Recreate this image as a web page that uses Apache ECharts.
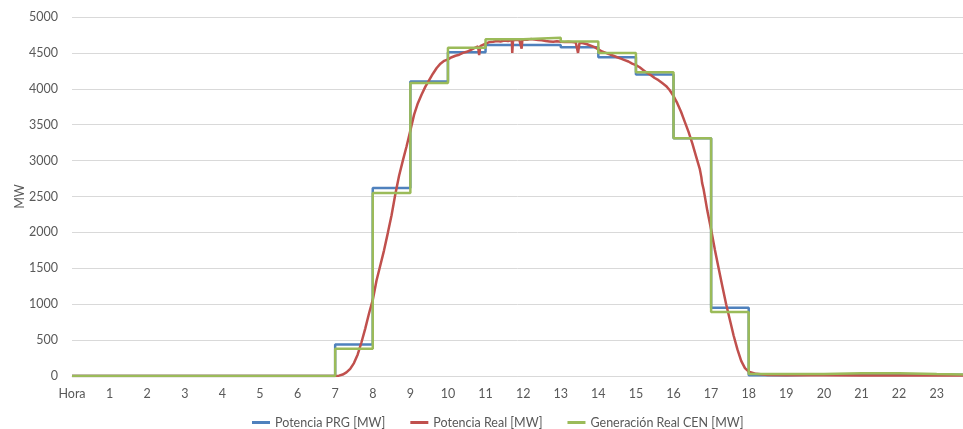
<!DOCTYPE html>
<html>
<head>
<meta charset="utf-8">
<script src="https://cdn.jsdelivr.net/npm/echarts@6/dist/echarts.min.js"></script>
<style>
  html, body { margin: 0; padding: 0; background: #fff; }
  #chart { width: 963px; height: 429px; }
</style>
</head>
<body>
<div id="chart"></div>
<script>
// Hourly axis labels (position 0 is the "Hora" caption)
const xTickLabels = ['Hora', '1', '2', '3', '4', '5', '6', '7', '8', '9', '10', '11',
  '12', '13', '14', '15', '16', '17', '18', '19', '20', '21', '22', '23'];

// Hour blocks 0..23; each value holds for the full hour
const hours = [0, 1, 2, 3, 4, 5, 6, 7, 8, 9, 10, 11, 12, 13, 14, 15, 16, 17, 18, 19, 20, 21, 22, 23];
const prgMW = [0, 0, 0, 0, 0, 0, 0, 440, 2620, 4100, 4510, 4610, 4610, 4580, 4440, 4200, 3310, 950, 10, 20, 20, 20, 20, 15];
const cenMW = [0, 0, 0, 0, 0, 0, 0, 380, 2550, 4080, 4570, 4690, 4710, 4660, 4500, 4230, 3310, 890, 28, 28, 40, 40, 28, 20];

// Measured plant output (hour of day, MW)
const realHour = [0, 6.9, 7.0, 7.1, 7.2, 7.3, 7.4, 7.5, 7.6, 7.7, 7.8, 7.9,
  8.0, 8.1, 8.2, 8.3, 8.4, 8.5, 8.6, 8.7, 8.8, 8.9,
  9.0, 9.1, 9.2, 9.3, 9.4, 9.5, 9.6, 9.7, 9.8, 9.9,
  10.0, 10.1, 10.2, 10.3, 10.4, 10.5, 10.6, 10.7, 10.8, 10.83, 10.86, 10.9,
  11.0, 11.1, 11.2, 11.3, 11.4, 11.5, 11.6, 11.7, 11.71, 11.73, 11.8, 11.9, 11.96, 11.98,
  12.0, 12.1, 12.2, 12.3, 12.4, 12.5, 12.6, 12.7, 12.8, 12.9,
  13.0, 13.1, 13.2, 13.3, 13.4, 13.46, 13.5, 13.6, 13.7, 13.8, 13.9,
  14.0, 14.1, 14.2, 14.3, 14.4, 14.5, 14.6, 14.7, 14.8, 14.9,
  15.0, 15.1, 15.2, 15.3, 15.4, 15.5, 15.6, 15.7, 15.8, 15.9,
  16.0, 16.1, 16.2, 16.3, 16.4, 16.5, 16.6, 16.7, 16.74, 16.76, 16.8, 16.9,
  17.0, 17.1, 17.2, 17.3, 17.4, 17.5, 17.6, 17.7, 17.8, 17.9,
  18.0, 18.2, 18.5, 19.0, 20.0, 21.0, 22.0, 23.0, 24.0];
const realMW = [0, 0, 0, 5, 20, 50, 100, 180, 300, 470, 660, 870,
  1060, 1330, 1540, 1750, 1990, 2240, 2530, 2790, 3000, 3200,
  3420, 3640, 3800, 3920, 4030, 4120, 4210, 4290, 4350, 4390,
  4410, 4440, 4460, 4475, 4500, 4515, 4540, 4565, 4590, 4470, 4595, 4610,
  4630, 4650, 4655, 4665, 4660, 4672, 4665, 4678, 4500, 4672, 4682, 4680, 4560, 4684,
  4690, 4684, 4692, 4686, 4680, 4676, 4665, 4660, 4655, 4662,
  4655, 4650, 4656, 4650, 4645, 4500, 4640, 4635, 4620, 4600, 4580,
  4550, 4520, 4500, 4480, 4460, 4440, 4420, 4400, 4380, 4350,
  4330, 4300, 4260, 4220, 4190, 4150, 4120, 4080, 4040, 3980,
  3900, 3800, 3680, 3540, 3400, 3240, 3060, 2880, 2770, 2690, 2600, 2300,
  2040, 1760, 1500, 1245, 1000, 780, 560, 370, 210, 110,
  60, 30, 15, 10, 10, 8, 8, 6, 5];

function hourSteps(values) {
  const pts = hours.map((h, i) => [h, values[i]]);
  pts.push([24, values[values.length - 1]]);
  return pts;
}

const textColor = '#595959';
const gridColor = '#D9D9D9';
const fontFamily = 'Lato, "Open Sans", sans-serif';

const chart = echarts.init(document.getElementById('chart'), null, { renderer: 'canvas' });
chart.setOption({
  animation: false,
  backgroundColor: '#ffffff',
  textStyle: { fontFamily: fontFamily, color: textColor },
  grid: { left: 72, right: 0, top: 17, bottom: 53, containLabel: false, outerBoundsMode: 'none' },
  legend: {
    top: 411,
    left: 247,
    itemWidth: 18,
    itemHeight: 3,
    itemGap: 25,
    icon: 'rect',
    textStyle: { fontFamily: fontFamily, fontSize: 12.5, color: textColor },
    data: ['Potencia PRG [MW]', 'Potencia Real [MW]', 'Generación Real CEN [MW]']
  },
  xAxis: {
    type: 'value',
    min: 0,
    max: 23.7,
    interval: 1,
    axisLine: { show: true, lineStyle: { color: gridColor, width: 1 } },
    axisTick: { show: false },
    splitLine: { show: false },
    axisLabel: {
      color: textColor,
      fontSize: 12.5,
      margin: 11,
      showMaxLabel: false,
      hideOverlap: false,
      formatter: function (v) {
        return Number.isInteger(v) && v < xTickLabels.length ? xTickLabels[v] : '';
      }
    }
  },
  yAxis: {
    type: 'value',
    min: 0,
    max: 5000,
    interval: 500,
    name: 'MW',
    nameLocation: 'middle',
    nameGap: 46,
    nameMoveOverlap: false,
    nameTextStyle: { color: textColor, fontSize: 12.5, fontFamily: fontFamily },
    axisLine: { show: false },
    axisTick: { show: false },
    splitLine: { lineStyle: { color: gridColor, width: 1 } },
    axisLabel: {
      color: textColor,
      fontSize: 12.5,
      margin: 14,
      formatter: function (v) { return String(v); }
    }
  },
  series: [
    {
      name: 'Potencia PRG [MW]',
      type: 'line',
      step: 'end',
      showSymbol: false,
      symbol: 'none',
      data: hourSteps(prgMW),
      lineStyle: { color: '#4F81BD', width: 2.5 },
      itemStyle: { color: '#4F81BD' },
      z: 2
    },
    {
      name: 'Potencia Real [MW]',
      type: 'line',
      showSymbol: false,
      symbol: 'none',
      data: realHour.map((h, i) => [h, realMW[i]]),
      lineStyle: { color: '#C0504D', width: 2.5 },
      itemStyle: { color: '#C0504D' },
      z: 3
    },
    {
      name: 'Generación Real CEN [MW]',
      type: 'line',
      step: 'end',
      showSymbol: false,
      symbol: 'none',
      data: hourSteps(cenMW),
      lineStyle: { color: '#9BBB59', width: 2.5 },
      itemStyle: { color: '#9BBB59' },
      z: 4
    }
  ]
});
</script>
</body>
</html>
